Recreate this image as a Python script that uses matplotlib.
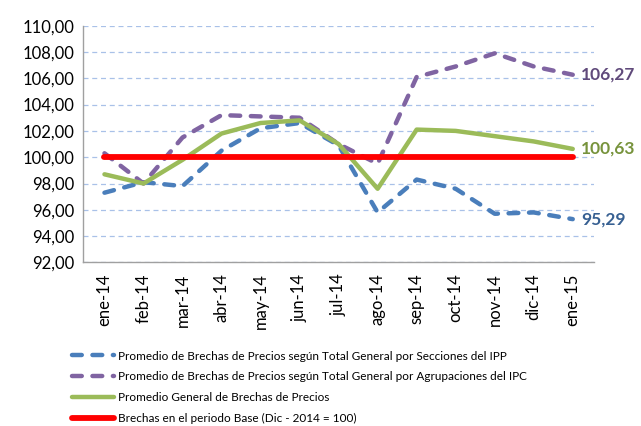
import matplotlib
matplotlib.use("Agg")
import matplotlib.pyplot as plt
import numpy as np

plt.rcParams['font.family'] = ['Lato', 'DejaVu Sans']

months = ["ene-14", "feb-14", "mar-14", "abr-14", "may-14", "jun-14", "jul-14",
          "ago-14", "sep-14", "oct-14", "nov-14", "dic-14", "ene-15"]
ipp = [97.3, 98.1, 97.8, 100.5, 102.2, 102.6, 100.9, 95.8, 98.3, 97.6, 95.7, 95.8, 95.29]
ipc = [100.3, 98.0, 101.5, 103.2, 103.1, 103.0, 101.0, 99.5, 106.1, 106.9, 107.9, 106.9, 106.27]
general = [98.7, 98.0, 99.8, 101.8, 102.6, 102.8, 101.0, 97.6, 102.1, 102.0, 101.6, 101.2, 100.63]
base = [100.0] * 13
yticks = [92, 94, 96, 98, 100, 102, 104, 106, 108, 110]

labels = ["Promedio de Brechas de Precios según Total General por Secciones del IPP",
          "Promedio de Brechas de Precios según Total General por Agrupaciones del IPC",
          "Promedio General de Brechas de Precios",
          "Brechas en el periodo Base (Dic - 2014 = 100)"]

fig = plt.figure(figsize=(6.41, 4.26), dpi=100)
ax = fig.add_axes([0.1295, 0.384, 0.927 - 0.1295, 0.9397 - 0.384])
x = np.arange(len(months))

l1, = ax.plot(x, ipp, color="#4a7ebb", lw=3.2, dashes=(2.2, 2.4),
              dash_capstyle="round", solid_capstyle="round", label=labels[0], zorder=3)
l2, = ax.plot(x, ipc, color="#8064a2", lw=3.2, dashes=(2.2, 2.4),
              dash_capstyle="round", solid_capstyle="round", label=labels[1], zorder=3)
l3, = ax.plot(x, general, color="#9bbb59", lw=3.2, solid_capstyle="round",
              solid_joinstyle="round", label=labels[2], zorder=4)
l4, = ax.plot(x, base, color="#ff0000", lw=4.2, solid_capstyle="round",
              label=labels[3], zorder=5)

ax.set_xlim(-0.55, len(months) - 0.45)
ax.set_ylim(92, 110)
ax.set_yticks(yticks)
ax.set_yticklabels([f"{v:.2f}".replace(".", ",") for v in yticks], fontsize=12)
ax.set_xticks(x)
ax.set_xticklabels(months, rotation=90, fontsize=12)
ax.tick_params(length=0, pad=6)
ax.tick_params(axis='x', pad=8)
ax.grid(axis='y', color="#a9c1e8", lw=0.9, ls=(0, (4, 3)))
ax.set_axisbelow(True)
for s in ["top", "right"]:
    ax.spines[s].set_visible(False)
for s in ["left", "bottom"]:
    ax.spines[s].set_color("#a0a0a0")
    ax.spines[s].set_linewidth(1)

ax.annotate(f"{ipc[-1]:.2f}".replace(".", ","), (x[-1], ipc[-1]), xytext=(6, 0),
            textcoords="offset points", va="center", ha="left", fontsize=12.5,
            fontweight="bold", color="#604a7b", annotation_clip=False)
ax.annotate(f"{general[-1]:.2f}".replace(".", ","), (x[-1], general[-1]), xytext=(6, 0),
            textcoords="offset points", va="center", ha="left", fontsize=12.5,
            fontweight="bold", color="#77933c", annotation_clip=False)
ax.annotate(f"{ipp[-1]:.2f}".replace(".", ","), (x[-1], ipp[-1]), xytext=(6, 0),
            textcoords="offset points", va="center", ha="left", fontsize=12.5,
            fontweight="bold", color="#376092", annotation_clip=False)

fig.legend(handles=[l1, l2, l3, l4], loc="upper left", bbox_to_anchor=(0.112, 0.177),
           frameon=False, fontsize=8.5, handlelength=3.6, handletextpad=0.3,
           labelspacing=0.82, borderpad=0, borderaxespad=0)

fig.savefig("out.png", dpi=100)
